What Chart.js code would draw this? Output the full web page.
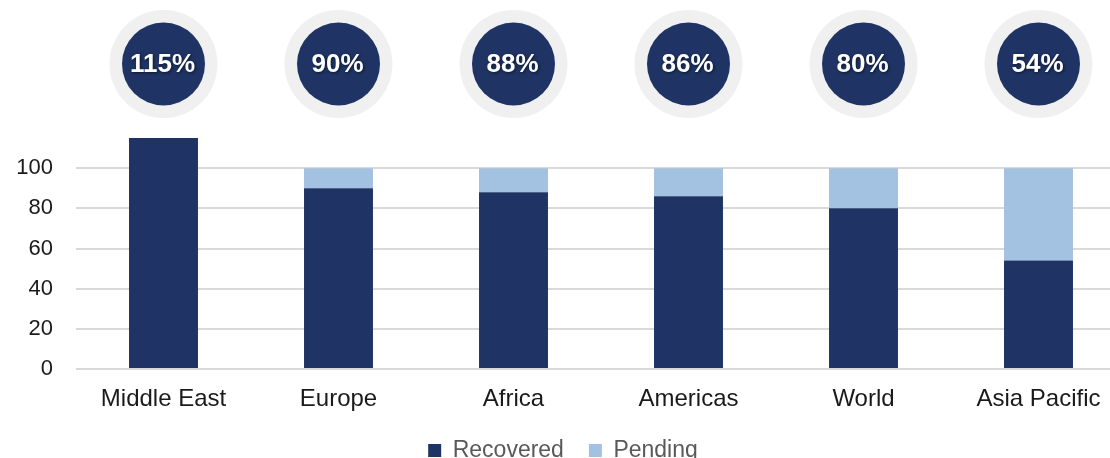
<!DOCTYPE html>
<html>
<head>
<meta charset="utf-8">
<script src="https://cdn.jsdelivr.net/npm/chart.js@4/dist/chart.umd.min.js"></script>
<style>
  html, body { margin: 0; padding: 0; background: #fff; overflow: hidden; }
  #wrap { width: 1126px; height: 472px; }
</style>
</head>
<body>
<div id="wrap"><canvas id="recoveryChart" width="1126" height="472"></canvas></div>
<script>
const regions = ['Middle East', 'Europe', 'Africa', 'Americas', 'World', 'Asia Pacific'];
const recovered = [115, 90, 88, 86, 80, 54];
const pending = [0, 10, 12, 14, 20, 46];
const yTicks = [0, 20, 40, 60, 80, 100];

const NAVY = '#1f3464';
const LIGHT = '#a3c1e0';

// --- Percentage badges above each column ---
const badgePlugin = {
    id: 'badges',
    afterDraw(chart) {
        const ctx = chart.ctx;
        const x = chart.scales.x;
        const cy = 64;
        recovered.forEach((v, i) => {
            const cx = x.getPixelForValue(i);
            ctx.save();
            ctx.beginPath();
            ctx.arc(cx, cy, 54, 0, Math.PI * 2);
            ctx.fillStyle = '#f0f0f0';
            ctx.fill();
            ctx.beginPath();
            ctx.arc(cx, cy, 41.5, 0, Math.PI * 2);
            ctx.fillStyle = NAVY;
            ctx.fill();
            ctx.font = 'bold 26px "Liberation Sans", Arial, sans-serif';
            ctx.textAlign = 'center';
            ctx.textBaseline = 'middle';
            ctx.shadowColor = 'rgba(0,0,0,0.55)';
            ctx.shadowBlur = 3;
            ctx.shadowOffsetX = 1;
            ctx.shadowOffsetY = 1;
            ctx.fillStyle = '#fff';
            ctx.fillText(v + '%', cx - 1, cy + 1);
            ctx.restore();
        });
    }
};

const ctx = document.getElementById('recoveryChart').getContext('2d');
new Chart(ctx, {
    type: 'bar',
    data: {
        labels: regions,
        datasets: [
            { label: 'Recovered', data: recovered, backgroundColor: NAVY },
            { label: 'Pending', data: pending, backgroundColor: LIGHT }
        ]
    },
    options: {
        responsive: false,
        animation: false,
        layout: { padding: { top: 120, left: 0, right: 0, bottom: 0 } },
        datasets: {
            bar: { barPercentage: 1, categoryPercentage: 0.394 }
        },
        scales: {
            x: {
                stacked: true,
                grid: { display: false },
                border: { display: false },
                ticks: {
                    color: '#1a1a1a',
                    font: { family: '"Liberation Sans", Arial, sans-serif', size: 24 },
                    padding: 8
                },
                afterFit(scale) { scale.height = 45; }
            },
            y: {
                stacked: true,
                min: 0,
                max: 124,
                afterBuildTicks(scale) {
                    scale.ticks = yTicks.map(v => ({ value: v }));
                },
                grid: { color: '#d9d9d9', lineWidth: 2, drawTicks: false },
                border: { display: false },
                ticks: {
                    color: '#1a1a1a',
                    font: { family: '"Liberation Sans", Arial, sans-serif', size: 22 },
                    padding: 23
                },
                afterFit(scale) { scale.width = 76; }
            }
        },
        plugins: {
            legend: {
                position: 'bottom',
                labels: {
                    color: '#595959',
                    font: { family: '"Liberation Sans", Arial, sans-serif', size: 23 },
                    boxWidth: 13,
                    boxHeight: 13,
                    padding: 25
                }
            },
            tooltip: { enabled: false }
        }
    },
    plugins: [badgePlugin]
});
</script>
</body>
</html>
